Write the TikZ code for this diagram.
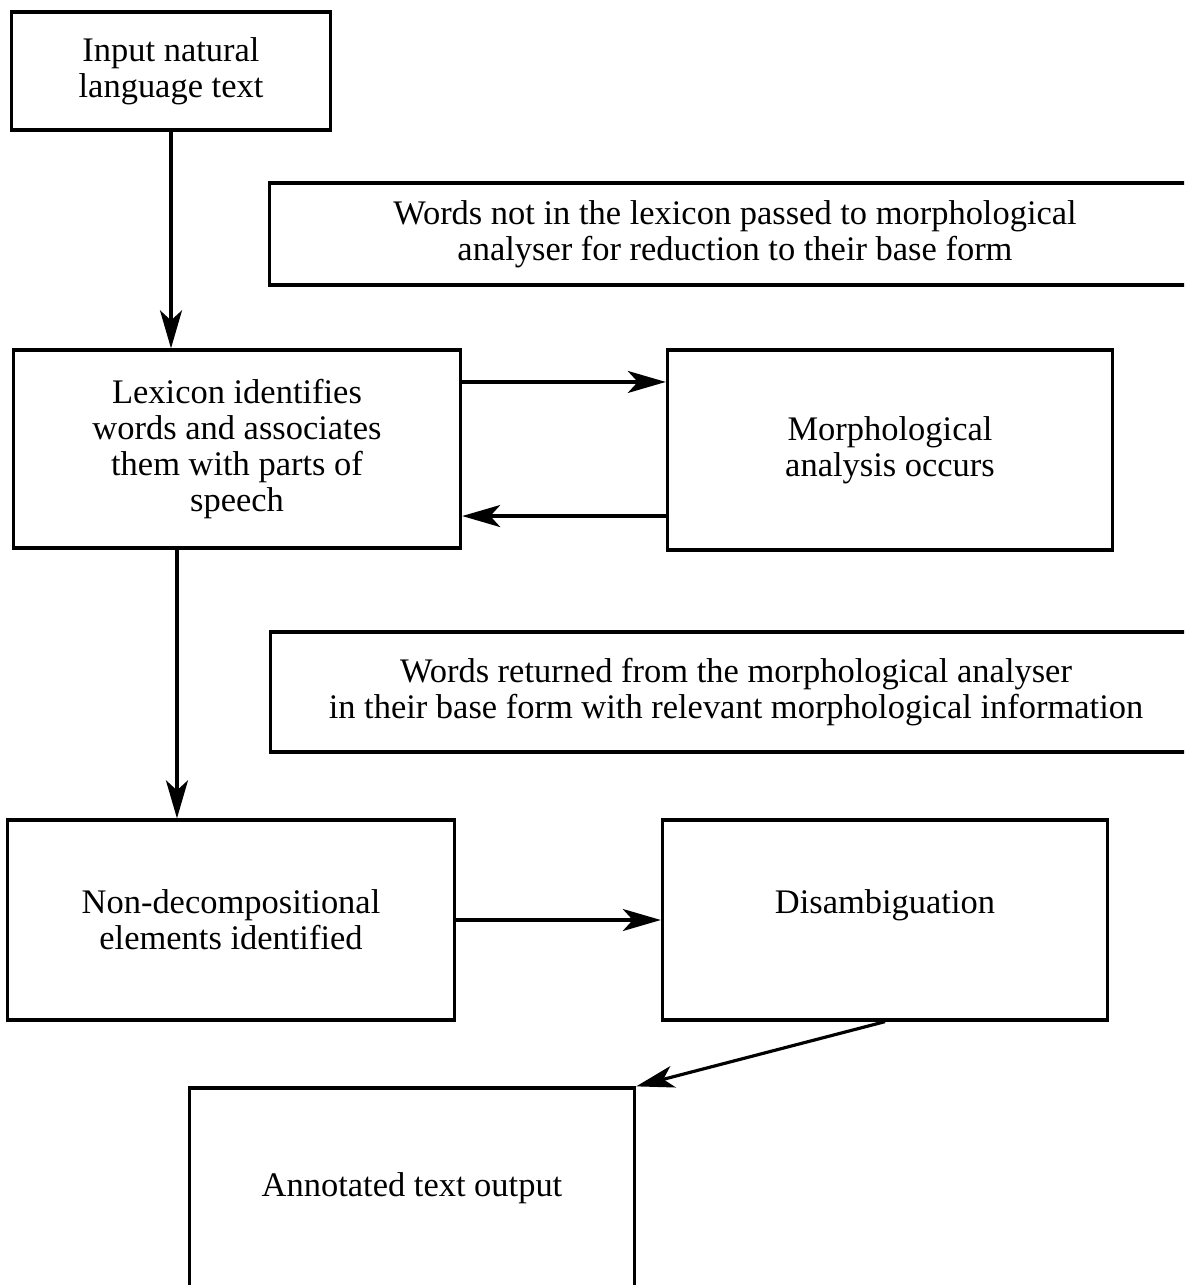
\documentclass[tikz,border=0pt]{standalone}
\usepackage{fontspec}
\setmainfont{Liberation Serif}
\usetikzlibrary{arrows.meta}
\begin{document}
\begin{tikzpicture}[x=0.01cm,y=-0.01cm,
        box/.style={draw,line width=0.9pt,align=center,inner sep=0pt,
            font=\fontsize{9.8}{10.25}\selectfont},
        flow/.style={line width=0.9pt,-{Stealth[length=0.38cm,width=0.22cm,inset=0.1cm]}}]
                \useasboundingbox (0,0) rectangle (1184,1285);
                \clip (0,0) rectangle (1184,1285);
                \node[box,minimum width=3.18cm,minimum height=1.18cm] (in) at (171,71) {Input natural\\language text};
                \node[box,minimum width=9.3cm,minimum height=1.02cm] (notin) at (735,234) {Words not in the lexicon passed to morphological\\analyser for reduction to their base form};
                \node[box,minimum width=4.47cm,minimum height=1.98cm] (lex) at (237,449) {Lexicon identifies\\words and associates\\them with parts of\\speech};
                \node[box,minimum width=4.45cm,minimum height=2cm] (morph) at (890,450) {Morphological\\analysis occurs};
                \node[box,minimum width=9.3cm,minimum height=1.2cm] (ret) at (736,692) {Words returned from the morphological analyser\\in their base form with relevant morphological information};
                \node[box,minimum width=4.47cm,minimum height=2cm] (nondec) at (231,920) {Non-decompositional\\elements identified};
                \node[box,minimum width=4.45cm,minimum height=2cm] (dis) at (885,920) {Disambiguation\\\mbox{}};
                \node[box,minimum width=4.45cm,minimum height=2cm] (ann) at (412,1188) {Annotated text output};
                \draw[flow] (in.south) -- (in.south |- lex.north);
                \draw[flow] ([yshift=0.67cm]lex.east) -- ([yshift=0.67cm]lex.east -| morph.west);
                \draw[flow] ([yshift=-0.67cm]lex.east -| morph.west) -- ([yshift=-0.67cm]lex.east);
                \draw[flow] ([xshift=-0.6cm]lex.south) -- ([xshift=-0.6cm]lex.south |- nondec.north);
                \draw[flow] (nondec.east) -- (dis.west);
                \draw[flow] (dis.south) -- (ann.north east);
\end{tikzpicture}
\end{document}
